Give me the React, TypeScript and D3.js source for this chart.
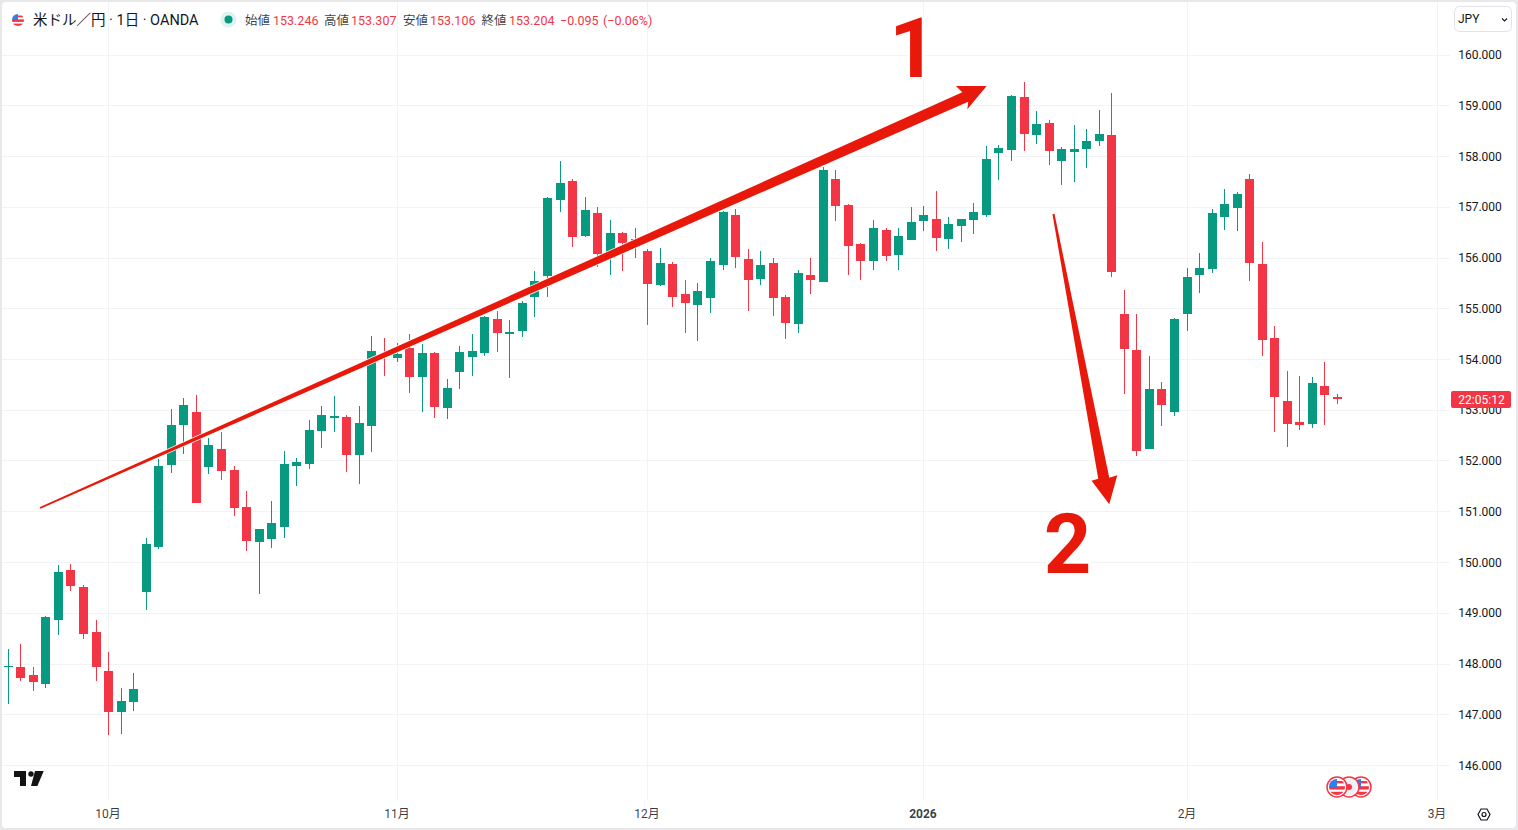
import React from 'react';
import * as d3 from 'd3';

// USD/JPY daily candles
const opens = [
  147.93, 147.93, 147.77, 147.60, 148.86, 149.84, 149.51, 148.62, 147.85, 147.05,
  147.25, 149.40, 150.30, 151.92, 152.70, 152.96, 151.88, 152.23, 151.81, 151.08,
  150.39, 150.45, 150.69, 151.89, 151.93, 152.58, 152.84, 152.86, 152.11, 152.68,
  154.10, 154.02, 154.22, 153.65, 154.12, 153.04, 153.75, 154.04, 154.12, 154.79,
  154.49, 154.55, 155.22, 155.64, 157.13, 157.51, 156.43, 156.88, 155.99, 156.48,
  156.37, 156.13, 155.46, 155.87, 155.28, 155.06, 155.20, 155.85, 156.84, 155.97,
  155.58, 155.89, 155.22, 154.69, 155.66, 155.52, 157.55, 157.04, 156.27, 155.93,
  156.54, 156.05, 156.34, 156.72, 156.76, 156.37, 156.62, 156.74, 156.84, 158.06,
  158.12, 159.16, 158.41, 158.65, 157.90, 158.08, 158.14, 158.30, 158.41, 154.89,
  154.18, 152.23, 153.41, 152.95, 154.89, 155.66, 155.77, 156.80, 156.97, 157.55,
  155.87, 154.41, 153.17, 152.76, 152.72, 153.47, 153.246,
];
const highs = [
  148.28, 148.38, 147.93, 148.93, 149.94, 149.96, 149.55, 148.86, 148.23, 147.52,
  147.81, 150.47, 152.02, 153.01, 153.23, 153.29, 152.44, 152.56, 151.89, 151.40,
  150.65, 151.20, 152.19, 152.05, 152.80, 153.07, 153.27, 152.90, 153.07, 154.45,
  154.41, 154.31, 154.49, 154.30, 154.14, 153.61, 154.26, 154.49, 154.85, 154.95,
  154.77, 155.15, 155.74, 157.19, 157.90, 157.55, 157.19, 157.00, 156.74, 156.50,
  156.58, 156.17, 156.19, 155.91, 155.56, 155.50, 155.99, 156.92, 156.96, 156.16,
  156.13, 155.99, 155.26, 155.76, 155.99, 157.78, 157.72, 157.06, 156.29, 156.74,
  156.58, 156.58, 156.99, 157.01, 157.31, 156.80, 156.76, 157.07, 158.19, 158.22,
  159.20, 159.46, 158.89, 158.71, 158.18, 158.61, 158.53, 158.91, 159.24, 155.36,
  154.89, 154.06, 153.55, 154.81, 155.79, 156.09, 156.96, 157.35, 157.29, 157.65,
  156.30, 154.65, 153.76, 153.66, 153.65, 153.94, 153.307,
];
const lows = [
  147.21, 147.66, 147.46, 147.52, 148.56, 149.42, 148.49, 147.66, 146.59, 146.62,
  147.06, 149.06, 150.26, 151.75, 152.13, 151.16, 151.73, 151.61, 150.91, 150.22,
  149.37, 150.28, 150.47, 151.50, 151.83, 152.25, 152.56, 151.77, 151.54, 152.17,
  153.67, 153.94, 153.33, 152.96, 152.84, 152.82, 153.41, 153.67, 154.06, 154.14,
  153.63, 154.44, 154.83, 155.22, 156.89, 156.21, 156.41, 155.81, 155.65, 155.73,
  155.99, 154.67, 155.44, 155.02, 154.51, 154.36, 154.91, 155.76, 155.80, 154.95,
  155.46, 154.85, 154.39, 154.51, 155.28, 155.52, 156.72, 155.66, 155.56, 155.76,
  155.93, 155.76, 156.34, 156.52, 156.13, 156.17, 156.30, 156.46, 156.80, 157.53,
  157.90, 158.10, 158.24, 157.82, 157.43, 157.49, 157.76, 158.20, 155.62, 153.31,
  152.09, 152.23, 152.68, 152.87, 154.55, 155.30, 155.69, 156.54, 156.52, 155.54,
  154.06, 152.56, 152.27, 152.60, 152.64, 152.70, 153.106,
];
const closes = [
  147.95, 147.72, 147.64, 148.92, 149.80, 149.52, 148.59, 147.94, 147.05, 147.26,
  147.50, 150.35, 151.90, 152.70, 153.09, 151.16, 152.30, 151.79, 151.06, 150.41,
  150.65, 150.77, 151.93, 151.97, 152.60, 152.90, 152.88, 152.11, 152.74, 154.16,
  154.05, 154.10, 153.64, 154.12, 153.05, 153.43, 154.14, 154.16, 154.83, 154.51,
  154.53, 155.10, 155.53, 157.17, 157.47, 156.41, 156.93, 156.07, 156.48, 156.28,
  156.20, 155.48, 155.89, 155.22, 155.10, 155.34, 155.93, 156.90, 156.01, 155.56,
  155.85, 155.20, 154.71, 155.70, 155.56, 157.72, 157.01, 156.23, 155.93, 156.58,
  156.03, 156.42, 156.70, 156.84, 156.39, 156.66, 156.76, 156.90, 157.94, 158.16,
  159.18, 158.43, 158.63, 158.10, 158.14, 158.14, 158.30, 158.43, 155.71, 154.20,
  152.19, 153.41, 153.09, 154.79, 155.62, 155.79, 156.88, 157.05, 157.25, 155.89,
  154.37, 153.25, 152.72, 152.70, 153.53, 153.29, 153.204,
];

const priceTicks = [160, 159, 158, 157, 156, 155, 154, 153, 152, 151, 150, 149, 148, 147, 146];
const monthLabels = ['10月', '11月', '12月', '2026', '2月', '3月'];
const monthIndex = [8, 31, 51, 73, 94, 114];

// hand drawn annotations, as [bar index, price]
const arrowUp: [number, number][] = [
  [2.53, 151.08], [76.12, 159.255], [75.61, 159.38], [78.06, 159.38],
  [76.52, 158.92], [76.59, 159.07], [2.6, 151.05],
];
const arrowDown: [number, number][] = [
  [83.31, 156.85], [86.96, 151.64], [86.43, 151.60], [87.84, 151.14],
  [88.48, 151.71], [87.84, 151.66], [83.47, 156.86],
];

const legendChunks = [
  { text: '始値', x: 245, value: false },
  { text: '153.246', x: 273, value: true },
  { text: '高値', x: 324, value: false },
  { text: '153.307', x: 351, value: true },
  { text: '安値', x: 403, value: false },
  { text: '153.106', x: 430, value: false ? true : true },
  { text: '終値', x: 481.5, value: false },
  { text: '153.204', x: 509, value: true },
  { text: '−0.095', x: 560, value: true },
  { text: '(−0.06%)', x: 603, value: true },
];

const UP = '#089981';
const DOWN = '#f23645';
const INK = '#131722';
const GRID = '#f2f3f5';
const MARKER = '#e8190b';
const FONT = 'Roboto, "Noto Sans CJK JP", sans-serif';

const Flag: React.FC<{ cx: number; cy: number; r: number; id: string }> = ({ cx, cy, r, id }) => (
  <g>
    <clipPath id={id}>
      <circle cx={cx} cy={cy} r={r} />
    </clipPath>
    <circle cx={cx} cy={cy} r={r} fill="#fff" />
    <g clipPath={`url(#${id})`}>
      <rect x={cx - r} y={cy - r * 0.1} width={2 * r} height={r * 0.42} fill={DOWN} />
      <rect x={cx - r} y={cy + r * 0.6} width={2 * r} height={r * 0.5} fill={DOWN} />
      <rect x={cx - r} y={cy - r * 0.75} width={2 * r} height={r * 0.3} fill={DOWN} />
      <rect x={cx - r} y={cy - r} width={r} height={r} fill="#2f80ed" />
    </g>
  </g>
);

export default function App() {
  const width = 1518;
  const height = 830;

  const x = d3.scaleLinear().domain([0, 106]).range([7.8, 1337]);
  const y = d3.scaleLinear().domain([146, 160]).range([765, 54.5]);

  const poly = d3
    .line<[number, number]>()
    .x((d) => x(d[0]))
    .y((d) => y(d[1]));

  return (
    <svg
      width={width}
      height={height}
      viewBox={`0 0 ${width} ${height}`}
      style={{ position: 'absolute', left: 0, top: 0, display: 'block', fontFamily: FONT }}
    >
      <rect width={width} height={height} fill="#e8e8ea" />
      <rect x={2} y={2} width={1514} height={826} rx={4} fill="#fff" />

      {/* grid */}
      {priceTicks.map((p) => (
        <line key={p} x1={2} x2={1450} y1={Math.round(y(p)) + 0.5} y2={Math.round(y(p)) + 0.5} stroke={GRID} />
      ))}
      {monthIndex.map((m) => (
        <line key={m} x1={Math.round(x(m)) + 0.5} x2={Math.round(x(m)) + 0.5} y1={2} y2={800} stroke={GRID} />
      ))}

      {/* candles */}
      {opens.map((o, i) => {
        const c = closes[i];
        const color = c >= o ? UP : DOWN;
        const xc = Math.round(x(i));
        const top = Math.round(y(Math.max(o, c)));
        const bottom = Math.round(y(Math.min(o, c)));
        const hi = Math.round(y(highs[i]));
        const lo = Math.round(y(lows[i]));
        return (
          <g key={i} fill={color} shapeRendering="crispEdges">
            <rect x={xc} y={hi} width={1} height={Math.max(lo - hi, 1)} />
            <rect x={xc - 4} y={top} width={9} height={Math.max(bottom - top, 1)} />
          </g>
        );
      })}

      {/* annotations */}
      <path d={poly(arrowUp) + 'Z'} fill={MARKER} stroke="#fff" strokeWidth={1.5} style={{ paintOrder: 'stroke' }} />
      <path d={poly(arrowDown) + 'Z'} fill={MARKER} stroke="#fff" strokeWidth={1.5} style={{ paintOrder: 'stroke' }} />
      <g
        fill={MARKER}
        stroke="#fff"
        strokeWidth={6}
        fontSize={83}
        fontWeight={700}
        fontFamily="Roboto, sans-serif"
        style={{ paintOrder: 'stroke' }}
      >
        <text x={913} y={76.7} textAnchor="middle">1</text>
        <text x={1067.5} y={572.7} textAnchor="middle">2</text>
      </g>

      {/* price axis */}
      {priceTicks.map((p) => (
        <text key={p} x={1480} y={y(p) + 4.5} textAnchor="middle" fontSize={12} fill={INK}>
          {d3.format('.3f')(p)}
        </text>
      ))}
      <rect x={1451} y={391} width={60} height={17} rx={2} fill={DOWN} />
      <text x={1481.5} y={403.5} textAnchor="middle" fontSize={12} fill="#fff">22:05:12</text>

      {/* time axis */}
      {monthLabels.map((label, i) => (
        <text
          key={label}
          x={Math.round(x(monthIndex[i]))}
          y={818}
          textAnchor="middle"
          fontSize={12}
          fontWeight={label === '2026' ? 700 : 400}
          fill={INK}
          fillOpacity={0.85}
        >
          {label}
        </text>
      ))}
      <g fill="none" stroke={INK} strokeWidth={1.2}>
        <path d="M1478 814.5l3-5.5h6l3 5.5-3 5.5h-6z" />
        <circle cx={1484} cy={814.5} r={2} />
      </g>

      {/* legend */}
      <Flag cx={18} cy={20} r={6} id="legend-flag" />
      <text x={33} y={25} fontSize={14.5} fill={INK}>米ドル／円 · 1日 · OANDA</text>
      <circle cx={228.5} cy={19.5} r={8} fill={UP} fillOpacity={0.12} />
      <circle cx={228.5} cy={19.5} r={4} fill={UP} />
      {legendChunks.map((d) => (
        <text key={d.text} x={d.x} y={24.5} fontSize={12.5} fill={d.value ? DOWN : INK} fillOpacity={d.value ? 1 : 0.85}>
          {d.text}
        </text>
      ))}

      {/* currency button */}
      <rect x={1454.5} y={6.5} width={57} height={25} rx={5} fill="#fff" stroke="#e0e3eb" />
      <text x={1458} y={23} fontSize={12} fill={INK}>JPY</text>
      <path d="M1502 18.5l2.5 2.5 2.5-2.5" fill="none" stroke={INK} strokeWidth={1.1} />

      {/* TradingView mark */}
      <g fill="#131313">
        <path d="M14 771h12v15h-6v-9h-6z" />
        <circle cx={31} cy={774} r={2.7} />
        <path d="M35 771h8.7l-6.3 15H31z" />
      </g>

      {/* event flags */}
      {[1361, 1349, 1337].map((cx, i) => (
        <g key={cx}>
          <circle cx={cx} cy={787} r={10} fill="#fff" stroke={DOWN} strokeWidth={1.5} />
          {cx === 1349 ? (
            <>
              <circle cx={cx} cy={787} r={8} fill="#f0f1f8" />
              <circle cx={cx} cy={787} r={3} fill={DOWN} />
            </>
          ) : (
            <Flag cx={cx} cy={787} r={8} id={`event-flag-${i}`} />
          )}
        </g>
      ))}
    </svg>
  );
}
